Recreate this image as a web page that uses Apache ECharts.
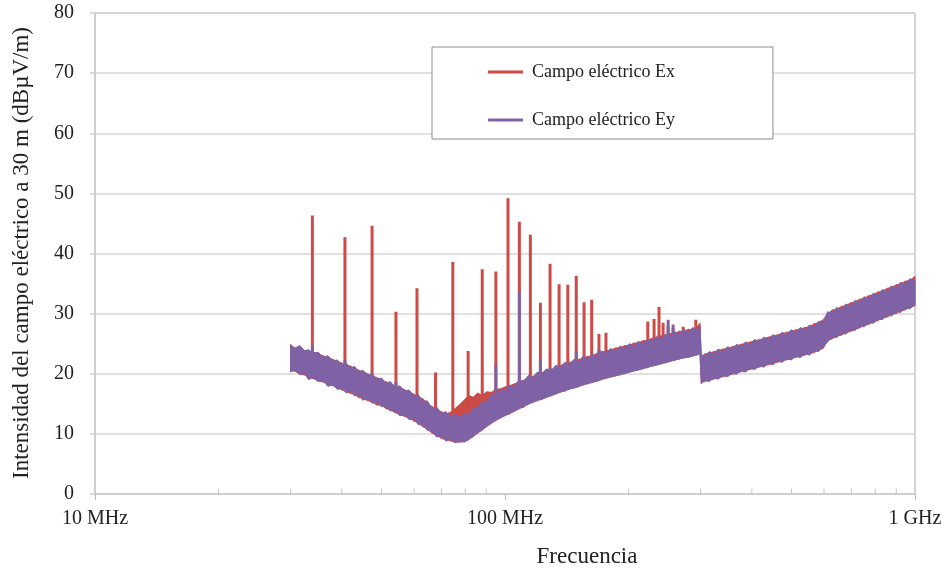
<!DOCTYPE html>
<html>
<head>
<meta charset="utf-8">
<script src="https://cdn.jsdelivr.net/npm/echarts@6/dist/echarts.min.js"></script>
<style>
html,body{margin:0;padding:0;background:#fff;}
#chart{width:947px;height:578px;}
</style>
</head>
<body>
<div id="chart"></div>
<script>
// ---------- data ----------
const freqs = [30,30.8,31.6,32.4,33.2,34,35,36,37,38,39,40,41,42,43,44,45,46.2,47.4,48.6,50,51.2,52.5,54,55.4,56.8,58.3,60,61.5,63,64.6,66.3,68,70,71.8,73.6,75.5,77.5,79.5,81.5,83.6,85.8,88,90.3,92.6,95,97.5,100,102.6,105.3,108,111,114,117,120,123,126,129.5,133,136.5,140,143.6,147.4,151,155,159,163,167.5,172,176.5,181,186,191,196,201,206,211.5,217,222.5,228,234,240,246,252.5,259,266,273,280,287,294,299,301,307,315,323,331,340,349,358,367,376,386,396,406,417,428,439,450,462,474,486,499,512,525,539,553,567,582,597,612,628,644,661,678,696,714,732,751,771,791,811,832,854,876,899,922,946,971,1000];

// Ey (purple) lower / upper edge of the noise band, dBµV/m
const eyLow = [20.3,20.6,19.8,20.1,19.0,19.4,18.7,18.9,17.9,18.2,17.4,17.6,16.8,17.1,16.3,16.5,15.6,15.9,15.1,15.3,14.5,14.6,13.8,13.9,13.0,13.3,12.4,12.5,11.5,11.6,10.6,10.5,9.5,9.6,8.8,9.1,8.5,8.8,8.6,9.1,9.5,10.2,10.6,11.3,11.7,12.3,12.6,13.1,13.3,13.8,14.1,14.6,14.9,15.3,15.5,15.8,16.0,16.4,16.6,17.0,17.1,17.5,17.6,17.9,18.1,18.4,18.5,18.8,19.0,19.3,19.4,19.7,19.8,20.1,20.2,20.5,20.6,20.9,21.0,21.3,21.4,21.7,21.8,22.1,22.2,22.5,22.6,22.8,22.9,23.2,23.3,18.3,18.9,18.7,19.3,19.1,19.7,19.5,20.1,19.9,20.5,20.3,20.9,20.7,21.3,21.1,21.7,21.5,22.1,21.9,22.5,22.3,22.9,22.7,23.3,23.1,23.8,23.7,24.5,25.3,26.1,26.0,26.7,26.6,27.3,27.2,27.9,27.8,28.5,28.4,29.1,29.0,29.7,29.6,30.3,30.2,30.9,30.8,31.5];
const eyHigh = [24.6,24.3,24.7,23.8,24.0,23.4,23.6,22.7,23.0,22.1,22.3,21.5,21.7,21.0,21.2,20.3,20.6,19.8,20.0,19.1,19.3,18.4,18.7,17.7,18.0,17.1,17.3,16.3,16.5,15.4,15.5,14.3,14.5,13.4,13.7,12.9,13.3,12.7,13.4,13.2,14.3,14.3,15.4,15.4,16.5,16.4,17.4,17.2,18.1,17.9,18.9,18.7,19.7,19.4,20.3,19.9,20.8,20.5,21.4,21.1,21.9,21.6,22.4,22.0,22.9,22.5,23.3,22.9,23.8,23.4,24.2,23.8,24.6,24.2,25.0,24.6,25.4,25.0,25.8,25.4,26.2,25.8,26.6,26.2,27.0,26.6,27.4,26.9,27.7,27.3,28.1,23.2,22.9,23.7,23.3,24.1,23.7,24.5,24.1,24.9,24.5,25.3,24.9,25.7,25.3,26.1,25.7,26.5,26.1,26.9,26.5,27.3,26.9,27.7,27.3,28.1,27.8,28.7,28.5,30.3,30.1,31.0,30.7,31.6,31.3,32.2,31.9,32.8,32.5,33.4,33.1,34.0,33.7,34.6,34.3,35.2,34.9,35.8,35.5];

// Ex (red) lower / upper edge of the noise band, dBµV/m
const exLow = [20.6,20.4,19.9,19.8,19.4,19.2,18.9,18.6,18.3,18.0,17.7,17.3,17.1,16.7,16.6,16.0,16.0,15.5,15.4,14.8,14.8,14.2,14.0,13.5,13.3,12.9,12.7,12.1,11.9,11.2,10.9,10.1,9.9,9.2,9.1,8.8,8.7,8.6,8.8,9.0,9.7,10.1,10.8,11.2,11.9,12.2,12.8,13.0,13.5,13.7,14.3,14.4,15.1,15.2,15.7,15.7,16.2,16.3,16.8,16.9,17.3,17.4,17.8,17.8,18.3,18.3,18.7,18.7,19.2,19.2,19.6,19.6,20.0,20.0,20.4,20.4,20.8,20.8,21.2,21.2,21.6,21.6,22.0,22.0,22.4,22.4,22.8,22.7,23.1,23.1,23.5,18.6,18.7,19.0,19.1,19.4,19.5,19.8,19.9,20.2,20.3,20.6,20.7,21.0,21.1,21.4,21.5,21.8,21.9,22.2,22.3,22.6,22.7,23.0,23.1,23.4,23.5,24.0,24.2,25.6,25.8,26.3,26.4,26.9,27.0,27.5,27.6,28.1,28.2,28.7,28.8,29.3,29.4,29.9,30.0,30.5,30.6,31.1,31.3];
const exHigh = [24.9,24.1,24.4,23.9,23.7,23.6,23.3,23.0,22.7,22.4,22.0,21.8,21.4,21.3,20.8,20.6,20.2,20.0,19.6,19.4,18.9,18.7,18.3,18.0,17.6,17.4,16.9,16.6,16.0,15.9,15.0,14.6,14.0,13.7,13.3,13.6,14.2,14.9,15.6,16.4,16.1,16.8,16.4,17.0,16.9,17.4,17.5,17.8,18.0,18.3,18.6,18.9,19.3,19.6,19.8,20.2,20.4,20.7,20.9,21.4,21.5,21.9,22.0,22.4,22.5,22.9,22.9,23.4,23.5,23.8,23.9,24.3,24.3,24.7,24.7,25.1,25.1,25.5,25.5,25.9,25.9,26.3,26.2,26.7,26.6,27.1,27.0,27.4,27.3,27.8,28.4,22.8,23.3,23.4,23.7,23.8,24.1,24.2,24.5,24.6,24.9,25.0,25.3,25.4,25.7,25.8,26.1,26.2,26.5,26.6,26.9,27.0,27.3,27.4,27.7,27.8,28.3,28.5,29.0,29.9,30.6,30.7,31.2,31.3,31.8,31.9,32.4,32.5,33.0,33.1,33.6,33.7,34.2,34.3,34.8,34.9,35.4,35.5,36.2];

// narrow-band emissions (spikes)
const exSpikeFreq = [33.9,40.7,47.4,54.2,61.0,67.7,74.6,81.3,88.0,95.0,101.7,108.4,115.3,122.0,128.8,135.5,142.3,149.2,155.9,162.7,169.5,176.3,223,231,237.5,243,250,257,272,292];
const exSpikeTop  = [46.3,42.7,44.6,30.3,34.2,20.2,38.6,23.8,37.4,37.0,49.2,45.3,43.1,31.8,38.3,34.9,34.8,36.3,31.9,32.3,26.6,26.8,28.7,29.1,31.1,28.5,28.0,27.6,27.8,29.0];
const exSpikeBase = [21.4,19.3,17.5,15.8,14.1,12.1,11.0,11.3,12.9,14.5,15.5,16.4,17.3,17.9,18.6,19.1,19.6,20.0,20.4,20.8,21.2,21.5,23.3,23.6,23.8,24.0,24.2,24.4,24.8,25.3];
const eySpikeFreq = [33.9,40.7,47.4,54.2,61.0,95.0,108.4,122.0,128.8,149.2,169.5,250,257];
const eySpikeTop  = [24.6,22.2,20.0,18.6,15.4,21.5,33.7,22.3,21.0,23.8,24.0,29.0,28.2];
const eySpikeBase = [21.4,19.3,17.5,15.8,14.1,14.5,16.4,17.9,18.6,20.0,21.2,24.2,24.4];

// axis ticks
const xTickValues = [10,100,1000];
const xTickLabels = ['10 MHz','100 MHz','1 GHz'];
const xMinorTicks = [20,30,40,50,60,70,80,90,200,300,400,500,600,700,800,900];
const seriesNames = ['Campo eléctrico Ex','Campo eléctrico Ey'];

// ---------- build ----------
const RED = '#cc4b46';
const PURPLE = '#7f62a6';
const FONT = "'Liberation Serif','Times New Roman',serif";

// noise band: one polygon (upper edge forward, lower edge back), mapped through the axes
function bandSeries(id, lo, hi, color, z) {
  return {
    name:id+'_band', type:'custom', coordinateSystem:'cartesian2d', silent:true, z:z, animation:false,
    data: freqs.map((f,i)=>[f, lo[i], hi[i]]),
    encode:{x:0, y:[1,2]},
    renderItem:(params, api)=>{
      if (params.dataIndex !== 0) return null;
      const pts = [];
      for (let i=0;i<freqs.length;i++) pts.push(api.coord([freqs[i], hi[i]]));
      for (let i=freqs.length-1;i>=0;i--) pts.push(api.coord([freqs[i], lo[i]]));
      return {type:'polygon', shape:{points:pts}, style:{fill:color, stroke:color, lineWidth:1}};
    }
  };
}
function spikeData(fs, base, top) {
  const d = [];
  fs.forEach((f,i)=>{ d.push([f, base[i]]); d.push([f, top[i]]); d.push([f, '-']); });
  return d;
}

const chart = echarts.init(document.getElementById('chart'), null, {renderer:'canvas'});
const option = {
  animation:false,
  backgroundColor:'#fff',
  color:[RED, PURPLE],
  grid:{left:95, right:32, top:13, bottom:84, show:true, borderColor:'#a9a9a9', borderWidth:1, backgroundColor:'transparent'},
  legend:{
    data:seriesNames, orient:'vertical', left:432, top:47,
    padding:[15,98,9,56], itemGap:28, itemWidth:35, itemHeight:3, icon:'rect',
    borderColor:'#8c8c8c', borderWidth:1, backgroundColor:'#fff',
    textStyle:{fontFamily:FONT, fontSize:18, lineHeight:20, color:'#222', padding:[0,0,0,4]},
    z:20
  },
  xAxis:{
    type:'log', logBase:10, min:10, max:1000,
    axisLine:{show:true, lineStyle:{color:'#cfcfcf', width:2}},
    axisTick:{show:true, length:6, lineStyle:{color:'#b8b8b8'}},
    splitLine:{show:false},
    axisLabel:{
      fontFamily:FONT, fontSize:20, color:'#222', margin:15,
      formatter:(v)=>{ const k = xTickValues.findIndex(t=>Math.abs(t-v)/t<1e-6); return k>=0 ? xTickLabels[k] : ''; }
    }
  },
  yAxis:{
    type:'value', min:0, max:80, interval:10,
    axisLine:{show:true, lineStyle:{color:'#cfcfcf', width:2}},
    axisTick:{show:true, length:5, lineStyle:{color:'#d0d0d0', width:1.5}},
    splitLine:{show:true, lineStyle:{color:'#d6d6d6', width:1.5}},
    axisLabel:{fontFamily:FONT, fontSize:20, color:'#222', margin:21}
  },
  graphic:[
    {type:'text', x:22, y:253, rotation:Math.PI/2,
     style:{text:'Intensidad del campo eléctrico a 30 m (dBµV/m)', font:'23px '+FONT, fill:'#222', align:'center', verticalAlign:'middle'}},
    {type:'text', x:587, y:557,
     style:{text:'Frecuencia', font:'23px '+FONT, fill:'#222', align:'center', verticalAlign:'middle'}}
  ],
  series:[
    bandSeries('ex', exLow, exHigh, RED, 2),
    {name:seriesNames[0], type:'line', data:spikeData(exSpikeFreq, exSpikeBase, exSpikeTop), connectNulls:false,
     showSymbol:false, symbol:'none', lineStyle:{color:RED, width:3}, itemStyle:{color:RED}, z:3, animation:false},
    bandSeries('ey', eyLow, eyHigh, PURPLE, 4),
    {name:seriesNames[1], type:'line', data:spikeData(eySpikeFreq, eySpikeBase, eySpikeTop), connectNulls:false,
     showSymbol:false, symbol:'none', lineStyle:{color:PURPLE, width:3}, itemStyle:{color:PURPLE}, z:5, animation:false},
    {name:'minorTicks', type:'scatter', data:xMinorTicks.map(v=>[v,0]), symbol:'rect', symbolSize:[1,5], symbolOffset:[0,-3],
     itemStyle:{color:'#b5b5b5'}, silent:true, clip:false, z:6, animation:false}
  ]
};
chart.setOption(option);
</script>
</body>
</html>
